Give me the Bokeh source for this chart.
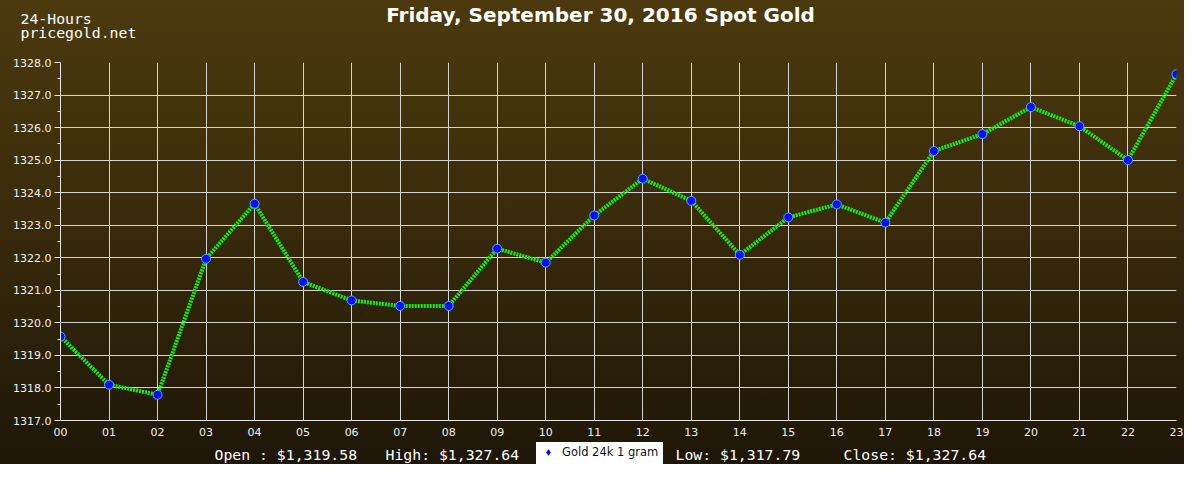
from bokeh.plotting import figure
from bokeh.layouts import column
from bokeh.models import (FixedTicker, PrintfTickFormatter, Label, Legend, LegendItem,
                          ColumnDataSource, Range1d)
from bokeh.embed import file_html
from bokeh.resources import INLINE

# ---- data ----
hours = list(range(24))
hour_labels = ["00", "01", "02", "03", "04", "05", "06", "07", "08", "09", "10", "11",
               "12", "13", "14", "15", "16", "17", "18", "19", "20", "21", "22", "23"]
prices = [1319.58, 1318.10, 1317.79, 1321.97, 1323.66, 1321.26, 1320.69, 1320.52,
          1320.52, 1322.28, 1321.85, 1323.30, 1324.43, 1323.75, 1322.09, 1323.24,
          1323.64, 1323.08, 1325.28, 1325.80, 1326.63, 1326.04, 1325.00, 1327.64]
y_ticks = [1317, 1318, 1319, 1320, 1321, 1322, 1323, 1324, 1325, 1326, 1327, 1328]
y_minor = [1317.5, 1318.5, 1319.5, 1320.5, 1321.5, 1322.5, 1323.5, 1324.5, 1325.5,
           1326.5, 1327.5]
title_text = "Friday, September 30, 2016 Spot Gold"
corner_lines = ["24-Hours", "pricegold.net"]
series_name = "Gold 24k 1 gram"
stats = ["Open : $1,319.58", "High: $1,327.64", "Low: $1,317.79", "Close: $1,327.64"]

# ---- layout constants (pixels) ----
W = 1184
TOP_H = 56
MAIN_H = 386
BOT_H = 22
TXT = "#f0f0f0"
MONO = "DejaVu Sans Mono"
GRAD = "linear-gradient(to bottom, #4c3a0d 0%, #3a2c0b 45%, #1e1607 100%)"


def blank_fig(h):
    f = figure(width=W, height=h, x_range=Range1d(0, W), y_range=Range1d(h, 0),
               x_axis_type=None, y_axis_type=None, output_backend="svg",
               toolbar_location=None, min_border=0, title=None, frame_align=False)
    f.background_fill_color = None
    f.border_fill_color = None
    f.outline_line_color = None
    return f


# ---- header ----
top = blank_fig(TOP_H)
top.add_layout(Label(x=600, y=14, text=title_text, text_align="center",
                     text_baseline="alphabetic", text_color="white",
                     text_font="DejaVu Sans", text_font_style="bold",
                     text_font_size="20px"))
for yy, line in zip([17.5, 32], corner_lines):
    top.add_layout(Label(x=20, y=yy, text=line, text_align="left",
                         text_baseline="alphabetic", text_color="white",
                         text_font=MONO, text_font_size="14.8px"))

# ---- main chart ----
p = figure(width=W, height=MAIN_H, output_backend="svg", toolbar_location=None,
           x_range=Range1d(hours[0], hours[-1]),
           y_range=Range1d(y_ticks[0], y_ticks[-1]),
           min_border_left=60, min_border_right=8,
           min_border_top=6, min_border_bottom=22, frame_align=False)
p.background_fill_color = None
p.border_fill_color = None
p.outline_line_color = None

xa = p.xaxis[0]
xa.ticker = FixedTicker(ticks=hours)
xa.major_label_overrides = {h: lab for h, lab in zip(hours, hour_labels)}
xa.major_tick_in = 0
xa.major_tick_out = 0
xa.minor_tick_out = 0
xa.axis_line_color = "#e8e8e8"
xa.major_label_text_color = TXT
xa.major_label_text_font = "DejaVu Sans"
xa.major_label_text_font_size = "11px"
xa.major_label_standoff = 7

ya = p.yaxis[0]
ya.ticker = FixedTicker(ticks=y_ticks, minor_ticks=y_minor)
ya.formatter = PrintfTickFormatter(format="%.1f")
ya.major_tick_in = 0
ya.major_tick_out = 6
ya.minor_tick_in = 0
ya.minor_tick_out = 3
ya.axis_line_color = "#e8e8e8"
ya.major_tick_line_color = "#e8e8e8"
ya.minor_tick_line_color = "#e8e8e8"
ya.major_label_text_color = TXT
ya.major_label_text_font = "DejaVu Sans"
ya.major_label_text_font_size = "11px"
ya.major_label_standoff = 3

p.xgrid.grid_line_color = "#d4d4d4"
p.ygrid.grid_line_color = "#d4d4d4"

src = ColumnDataSource(data=dict(x=hours, y=prices))
p.line("x", "y", source=src, line_color="#11ee11", line_width=4, line_dash="2 1")
p.scatter("x", "y", source=src, size=9, fill_color="#0010ff",
          line_color="#55aaff", line_width=1)

# ---- footer ----
bot = blank_fig(BOT_H)
# legend swatch proxy: same series, but it falls outside this strip's ranges
swatch = bot.scatter(x=hours, y=prices, marker="diamond", size=6,
                     fill_color="#0010ff", line_color="#0010ff")
legend = Legend(items=[LegendItem(label=series_name, renderers=[swatch])],
                location=(536, 0), orientation="horizontal",
                background_fill_color="white", background_fill_alpha=1,
                border_line_color="white", border_line_width=1,
                padding=4, margin=0, spacing=0,
                glyph_width=14, glyph_height=14, label_height=14, label_standoff=7,
                label_text_font="DejaVu Sans", label_text_font_size="11.5px",
                label_text_color="#111111")
bot.add_layout(legend, "center")
for xpos, s in zip([214, 385, 675, 843], stats):
    bot.add_layout(Label(x=xpos, y=12, text=s, text_align="left",
                         text_baseline="alphabetic", text_color="white",
                         text_font=MONO, text_font_size="14.8px"))

layout = column(top, p, bot, spacing=0)
layout.styles = {"background": GRAD}

open("out.html", "w").write(file_html(layout, INLINE))
